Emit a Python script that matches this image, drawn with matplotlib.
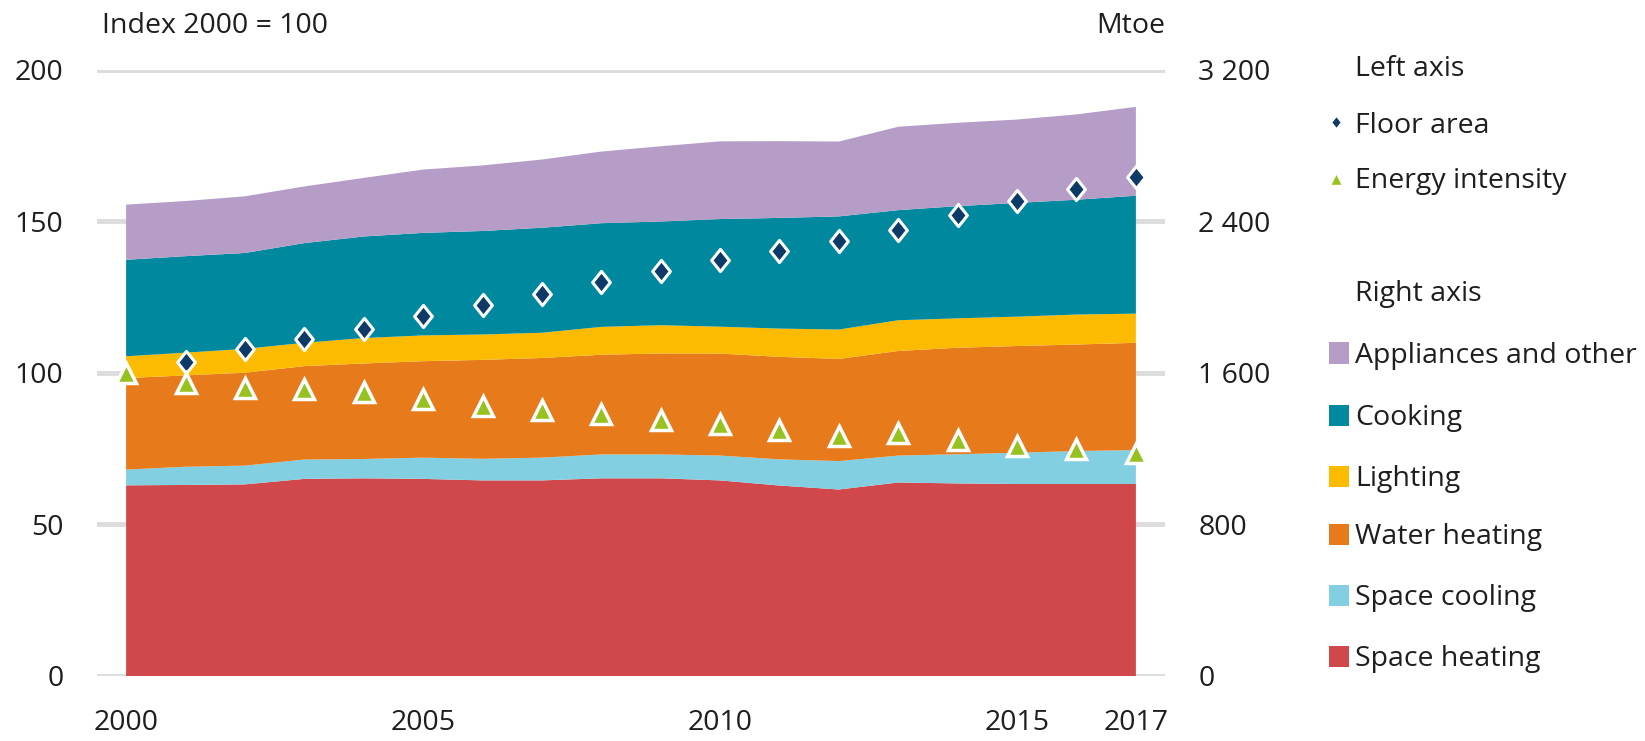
import matplotlib
matplotlib.use("Agg")
import numpy as np
import matplotlib.pyplot as plt
from matplotlib.path import Path
from matplotlib.patches import Rectangle
from matplotlib.lines import Line2D
from matplotlib.ticker import FuncFormatter

# ---------------- data ----------------
years = list(range(2000, 2018))

# Right axis (Mtoe) - stacked end uses
space_heating = [1006, 1008, 1011, 1040, 1043, 1040, 1032, 1032, 1043, 1043,
                 1032, 1005, 984, 1021, 1016, 1013, 1013, 1013]
space_cooling = [83, 96, 99, 102, 102, 112, 114, 120, 126, 126,
                 131, 138, 150, 142, 154, 165, 174, 179]
water_heating = [483, 482, 490, 493, 504, 509, 522, 526, 526, 533,
                 538, 541, 539, 552, 562, 563, 562, 566]
lighting = [115, 120, 126, 123, 134, 136, 134, 133, 147, 149,
            142, 149, 155, 162, 155, 155, 158, 154]
cooking = [509, 509, 506, 526, 536, 541, 546, 554, 547, 547,
           568, 584, 597, 581, 592, 600, 606, 622]
appliances = [291, 291, 299, 299, 309, 334, 346, 360, 378, 397,
              410, 405, 395, 440, 440, 440, 450, 469]

# Left axis (Index 2000 = 100)
floor_area = [np.nan, 103.5, 107.7, 111.2, 114.5, 118.7, 122.5, 126.1, 130.0, 133.5,
              137.1, 140.2, 143.6, 147.0, 152.1, 156.6, 160.6, 164.5]
energy_intensity = [100, 96.5, 95.0, 94.5, 93.6, 91.4, 89.1, 87.7, 86.3, 84.4,
                    83.2, 81.2, 79.1, 80.1, 77.8, 75.7, 74.7, 73.6]

stack_labels = ["Space heating", "Space cooling", "Water heating",
                "Lighting", "Cooking", "Appliances and other"]
stack_colors = ["#d0484b", "#82cfe2", "#e77b1c", "#fdbb00", "#00889e", "#b59dc8"]

left_ticks = [0, 50, 100, 150, 200]
right_ticks = [0, 800, 1600, 2400, 3200]
x_ticks = [2000, 2005, 2010, 2015, 2017]

# ---------------- style ----------------
plt.rcParams['font.family'] = ['Open Sans', 'DejaVu Sans']
FS = 20.5
TXT = "#1e1e1e"
W, H = 1645, 741

fig = plt.figure(figsize=(W / 100, H / 100), dpi=100)


def fx(px):
    return px / W


def fy(py):
    return 1 - py / H


ax_left, ax_right = 97, 1165
y0, y200 = 676, 69.5
ax = fig.add_axes([fx(ax_left), fy(y0), fx(ax_right - ax_left), (y0 - y200) / H])
ax2 = ax.twinx()

# stacked areas on the right axis
ax2.stackplot(years, space_heating, space_cooling, water_heating, lighting,
              cooking, appliances, colors=stack_colors, linewidth=0, zorder=2)
ax2.set_ylim(0, 3200)
ax2.set_yticks(right_ticks)
ax2.yaxis.set_major_formatter(FuncFormatter(lambda v, p: f"{int(v):,}".replace(",", " ")))
ax2.grid(axis='y', color='#dcdcdc', linewidth=3.5, zorder=0)
ax2.set_axisbelow(True)

# markers on the left axis, drawn above
diamond = Path([(0, 1), (0.8, 0), (0, -1), (-0.8, 0), (0, 1)],
               [Path.MOVETO, Path.LINETO, Path.LINETO, Path.LINETO, Path.CLOSEPOLY])
ax.set_zorder(ax2.get_zorder() + 1)
ax.patch.set_visible(False)
ax.plot(years, floor_area, linestyle='none', marker=diamond, markersize=16,
        markerfacecolor='#0d3a66', markeredgecolor='white', markeredgewidth=2.2,
        clip_on=False, zorder=3)
ax.plot(years, energy_intensity, linestyle='none', marker='^', markersize=14,
        markerfacecolor='#97c11f', markeredgecolor='white', markeredgewidth=2.5,
        clip_on=False, zorder=4)
ax.set_ylim(0, 200)
ax.set_yticks(left_ticks)
ax.set_xlim(1999.51, 2017.49)
ax.set_xticks(x_ticks)

for a in (ax, ax2):
    for s in a.spines.values():
        s.set_visible(False)
    a.tick_params(length=0, labelsize=FS, colors=TXT)
ax.tick_params(axis='y', pad=24)
ax2.tick_params(axis='y', pad=24)
ax.tick_params(axis='x', pad=24)

# axis titles
fig.text(fx(102), fy(33), "Index 2000 = 100", fontsize=FS, color=TXT,
         ha='left', va='baseline')
fig.text(fx(1165), fy(33), "Mtoe", fontsize=FS, color=TXT,
         ha='right', va='baseline')

# ---------------- legend ----------------
tx = 1355
rows = [
    ("Left axis", 76, None),
    ("Floor area", 133, 'diamond'),
    ("Energy intensity", 188, 'tri'),
    ("Right axis", 301, None),
]
for label, base, kind in rows:
    fig.text(fx(tx), fy(base), label, fontsize=FS, color=TXT, ha='left', va='baseline')
    if kind == 'diamond':
        fig.add_artist(Line2D([fx(1336)], [fy(base - 11)], transform=fig.transFigure,
                              linestyle='none', marker=diamond, markersize=9,
                              markerfacecolor='#0d3a66', markeredgecolor='white',
                              markeredgewidth=1))
    elif kind == 'tri':
        fig.add_artist(Line2D([fx(1336)], [fy(base - 9)], transform=fig.transFigure,
                              linestyle='none', marker='^', markersize=8,
                              markerfacecolor='#97c11f', markeredgecolor='white',
                              markeredgewidth=1))

stack_bases = [666, 605, 544, 486, 425, 363]
for label, color, base in zip(stack_labels, stack_colors, stack_bases):
    fig.text(fx(tx), fy(base), label, fontsize=FS, color=TXT, ha='left', va='baseline')
    fig.add_artist(Rectangle((fx(1329), fy(base + 0.5)), fx(20), 21 / H,
                             transform=fig.transFigure, facecolor=color,
                             edgecolor='none'))

fig.savefig("out.png", dpi=100)
